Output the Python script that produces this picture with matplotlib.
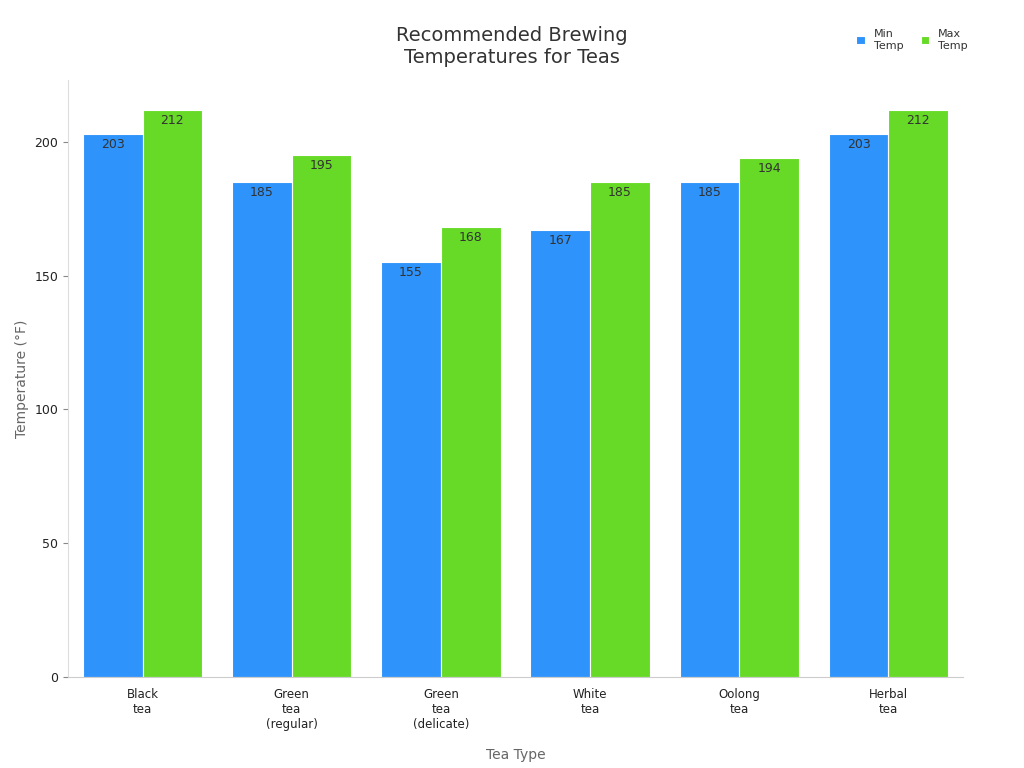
import matplotlib.pyplot as plt
import numpy as np

categories = ["Black\ntea", "Green\ntea\n(regular)", "Green\ntea\n(delicate)", "White\ntea", "Oolong\ntea", "Herbal\ntea"]
min_temp = [203, 185, 155, 167, 185, 203]
max_temp = [212, 195, 168, 185, 194, 212]

fig = plt.figure(figsize=(10.24, 7.68), dpi=100)
ax = fig.add_axes([0.0664, 0.1185, 0.874, 0.777])

x = np.arange(len(categories))
w = 0.4
b1 = ax.bar(x - w / 2, min_temp, w, color="#2E93FA", edgecolor="white", linewidth=0.8, label="Min\nTemp")
b2 = ax.bar(x + w / 2, max_temp, w, color="#66DA26", edgecolor="white", linewidth=0.8, label="Max\nTemp")

for bars, vals in [(b1, min_temp), (b2, max_temp)]:
    for r, v in zip(bars, vals):
        ax.text(r.get_x() + r.get_width() / 2, v - 1.5, str(v), ha="center", va="top",
                fontsize=9, color="#333333")

ax.set_xlim(-0.5, 5.5)
ax.set_ylim(0, 223)
ax.set_yticks([0, 50, 100, 150, 200])
ax.set_xticks(x)
ax.set_xticklabels(categories, fontsize=8.5, color="#222222")
ax.tick_params(axis="y", labelsize=9, colors="#222222")
ax.tick_params(axis="x", length=0, pad=8)
ax.tick_params(axis="y", color="#888888")
for s in ["top", "right"]:
    ax.spines[s].set_visible(False)
ax.spines["left"].set_color("#dddddd")
ax.spines["bottom"].set_color("#cccccc")

ax.set_xlabel("Tea Type", fontsize=10, color="#666666", labelpad=12)
ax.set_ylabel("Temperature (°F)", fontsize=10, color="#666666")
fig.text(0.5, 0.94, "Recommended Brewing\nTemperatures for Teas", ha="center", va="center",
         fontsize=14, color="#333333")

fig.legend(loc="upper right", bbox_to_anchor=(0.955, 0.975), ncol=2, frameon=False,
           fontsize=8, handlelength=0.8, handleheight=0.8, columnspacing=1.5, labelcolor="#333333")

fig.savefig("out.png")
